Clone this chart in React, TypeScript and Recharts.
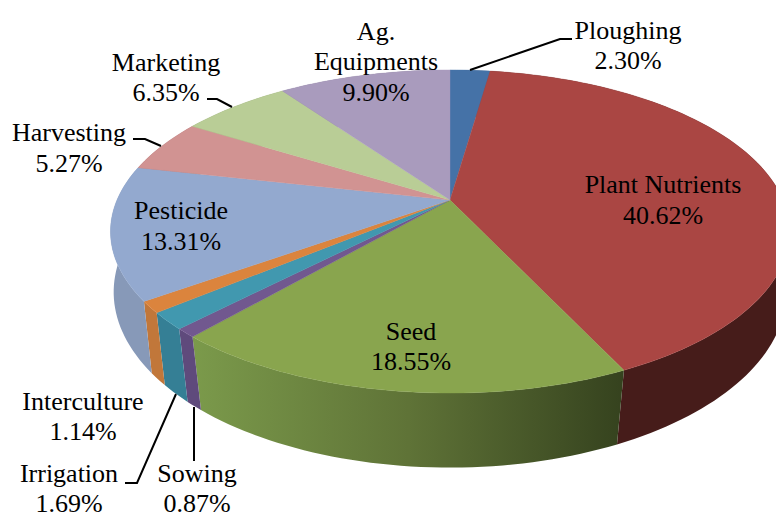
import { Cell, Pie, PieChart } from "recharts";

const CATEGORIES = [
  "Ploughing",
  "Plant Nutrients",
  "Seed",
  "Sowing",
  "Irrigation",
  "Interculture",
  "Pesticide",
  "Harvesting",
  "Marketing",
  "Ag. Equipments",
];
const SHARES = [2.3, 40.62, 18.55, 0.87, 1.69, 1.14, 13.31, 5.27, 6.35, 9.9];
const TOP_COLORS = [
  "#4572a7",
  "#aa4643",
  "#89a54e",
  "#71588f",
  "#4198af",
  "#db843d",
  "#93a9cf",
  "#d19392",
  "#b9cd96",
  "#a99bbd",
];
const WALL_COLORS = [
  "#34557d",
  "#461c1a",
  "url(#seedWall)",
  "#5f4a7c",
  "#357f95",
  "#c1773a",
  "#8799b8",
  "#9c6e6d",
  "#8a9a70",
  "#7e748d",
];

const data = CATEGORIES.map((name, i) => ({ name, value: SHARES[i] }));

// text lines, centre x and baselines for each category's label
const LABELS: Record<string, { lines: string[]; x: number; y: number[] }> = {
  Ploughing: { lines: ["Ploughing", "2.30%"], x: 628, y: [39, 69] },
  "Plant Nutrients": { lines: ["Plant Nutrients", "40.62%"], x: 663, y: [193, 224] },
  Seed: { lines: ["Seed", "18.55%"], x: 411, y: [340, 370] },
  Sowing: { lines: ["Sowing", "0.87%"], x: 197, y: [482, 512] },
  Irrigation: { lines: ["Irrigation", "1.69%"], x: 69, y: [482, 512] },
  Interculture: { lines: ["Interculture", "1.14%"], x: 83, y: [410, 440] },
  Pesticide: { lines: ["Pesticide", "13.31%"], x: 181, y: [219, 250] },
  Harvesting: { lines: ["Harvesting", "5.27%"], x: 69, y: [141, 172] },
  Marketing: { lines: ["Marketing", "6.35%"], x: 166, y: [71, 101] },
  "Ag. Equipments": { lines: ["Ag.", "Equipments", "9.90%"], x: 376, y: [40, 70, 101] },
};

const LEADERS: Record<string, string> = {
  Ploughing: "470,70 560,39 572,39",
  Sowing: "194,407 194,461",
  Irrigation: "125,483 137,483 176,394",
  Harvesting: "133,139 145,139 161,146",
  Marketing: "207,99 217,99 232,107",
};

// perspective planes for the top face and the bottom of the pie
const TOP_PLANE = { cx: 450, cy: 200, rx: 333, ry: 155.4, k: 0.195 };
const BOTTOM_PLANE = { cx: 450, cy: 264, rx: 332, ry: 171, k: 0.16 };

type Plane = typeof TOP_PLANE;

const project = (plane: Plane, deg: number) => {
  const a = (deg * Math.PI) / 180;
  const u = Math.cos(a);
  const v = -Math.sin(a);
  const w = 1 - plane.k * v;
  return [plane.cx + (plane.rx * u) / w, plane.cy + (plane.ry * v) / w];
};

const arc = (plane: Plane, from: number, to: number) => {
  const steps = Math.max(2, Math.ceil(Math.abs(to - from) / 1.5));
  const pts = [];
  for (let i = 0; i <= steps; i++) {
    const p = project(plane, from + ((to - from) * i) / steps);
    pts.push(`${p[0].toFixed(2)} ${p[1].toFixed(2)}`);
  }
  return pts;
};

const TopFace = (p: any) => {
  const pts = arc(TOP_PLANE, p.startAngle, p.endAngle);
  const d = `M${TOP_PLANE.cx} ${TOP_PLANE.cy}L${pts.join("L")}Z`;
  return <path d={d} fill={p.fill} stroke={p.fill} strokeWidth={0.4} />;
};

const WallFace = (p: any) => {
  const fill = WALL_COLORS[CATEGORIES.indexOf(p.name)];
  const top = arc(TOP_PLANE, p.startAngle, p.endAngle);
  const bottom = arc(BOTTOM_PLANE, p.endAngle, p.startAngle);
  const d = `M${top.join("L")}L${bottom.join("L")}Z`;
  return <path d={d} fill={fill} />;
};

const renderLabel = (p: any) => {
  const label = LABELS[p.name];
  const leader = LEADERS[p.name];
  return (
    <g key={p.name}>
      {leader && <polyline points={leader} fill="none" stroke="#000" strokeWidth={2} />}
      <text textAnchor="middle" fontFamily="'Liberation Serif'" fontSize={26} fill="#000">
        {label.lines.map((line, i) => (
          <tspan key={line} x={label.x} y={label.y[i]}>
            {line}
          </tspan>
        ))}
      </text>
    </g>
  );
};

export default function App() {
  return (
    <div style={{ position: "absolute", left: 0, top: 0, width: 776, height: 518, overflow: "hidden" }}>
      <PieChart width={776} height={518} margin={{ top: 0, right: 0, bottom: 0, left: 0 }}>
        <defs>
          <linearGradient id="seedWall" x1="0" y1="0" x2="1" y2="0">
            <stop offset="0%" stopColor="#7b9a4b" />
            <stop offset="50%" stopColor="#5f7337" />
            <stop offset="100%" stopColor="#35421e" />
          </linearGradient>
        </defs>
        <Pie
          data={data}
          dataKey="value"
          nameKey="name"
          cx={450}
          cy={200}
          outerRadius={130}
          startAngle={90}
          endAngle={-270}
          stroke="none"
          shape={WallFace}
          isAnimationActive={false}
        />
        <Pie
          data={data}
          dataKey="value"
          nameKey="name"
          cx={450}
          cy={200}
          outerRadius={130}
          startAngle={90}
          endAngle={-270}
          stroke="none"
          shape={TopFace}
          label={renderLabel}
          labelLine={false}
          isAnimationActive={false}
        >
          {data.map((_, i) => (
            <Cell key={i} fill={TOP_COLORS[i]} />
          ))}
        </Pie>
      </PieChart>
    </div>
  );
}
